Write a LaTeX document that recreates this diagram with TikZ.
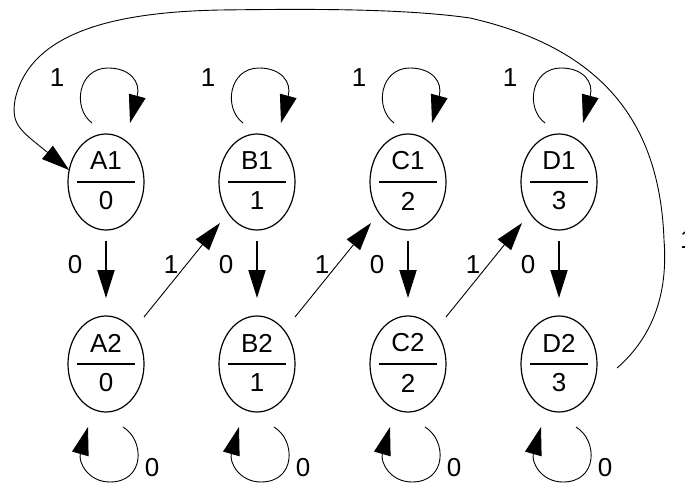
\documentclass[tikz,border=0pt]{standalone}
\usepackage{fontspec}
\setmainfont{Liberation Sans}
\usetikzlibrary{calc,shapes.geometric,arrows.meta}
\begin{document}
\begin{tikzpicture}[x=1pt,y=-1pt,
  state/.style={ellipse,draw,line width=1.2pt,minimum width=76pt,minimum height=96pt,inner sep=0pt,outer sep=0pt},
  lbl/.style={font=\fontsize{26}{30}\selectfont,inner sep=0pt},
  bar/.style={line width=2pt},
  tipA/.style={-{Triangle[length=28pt,width=17pt]}},
  vert/.style={tipA,line width=2pt,shorten <=11pt,shorten >=18pt},
  diag/.style={tipA,line width=0.9pt},
  loopline/.style={tipA,line width=0.9pt}]
\useasboundingbox (0,0) rectangle (685,484);
\foreach \n/\x/\v in {A/106/0,B/257/1,C/408/2,D/559/3}{
  \node[state] (\n1) at (\x,182) {};
  \node[state] (\n2) at (\x,364) {};
  \node[lbl] (\n1t) at ($(\n1)+(0,-21)$) {\n1};
  \node[lbl] (\n1b) at ($(\n1)+(0,19)$) {\v};
  \node[lbl] (\n2t) at ($(\n2)+(0,-21)$) {\n2};
  \node[lbl] (\n2b) at ($(\n2)+(0,19)$) {\v};
  \draw[bar] ($(\n1)+(-29,0)$) -- ($(\n1)+(29,0)$);
  \draw[bar] ($(\n2)+(-29,0)$) -- ($(\n2)+(29,0)$);
  % self loop on top state
  \draw[loopline] ($(\n1)+(-14,-59)$) .. controls ($(\n1)+(-34,-74)$) and ($(\n1)+(-28,-114)$) .. ($(\n1)+(2,-114)$)
     .. controls ($(\n1)+(24,-114)$) and ($(\n1)+(35,-100)$) .. ($(\n1)+(24,-59)$);
  \node[lbl] (\n1l) at ($(\n1)+(-49,-104)$) {1};
  % self loop on bottom state
  \draw[loopline] ($(\n2)+(17,63)$) .. controls ($(\n2)+(39,76)$) and ($(\n2)+(39,118)$) .. ($(\n2)+(4,118)$)
     .. controls ($(\n2)+(-18,118)$) and ($(\n2)+(-28,98)$) .. ($(\n2)+(-18,63)$);
  \node[lbl] (\n2l) at ($(\n2)+(46,104)$) {0};
  % vertical transition
  \draw[vert] (\n1) -- (\n2);
  \node[lbl] (\n1v) at ($(\n1)+(-31,83)$) {0};
}
\foreach \a/\b in {A/B,B/C,C/D}{
  \draw[diag] ($(\a2)+(38,-47)$) -- ($(\b1)+(-37,41)$);
  \node[lbl] (\a d) at ($(\a1)+(65,83)$) {1};
}
% long return transition D2 -> A1
\draw[tipA,line width=0.9pt] ($(D2)+(58,4)$) .. controls (655,335) and (668,290) .. (664,240)
   .. controls (660,130) and (610,50) .. (470,18)
   .. controls (400,8) and (300,9) .. (220,10)
   .. controls (120,12) and (30,30) .. (15,100)
   .. controls (11,125) and (20,130) .. (A1.162);
\node[lbl,anchor=west] (ret) at (680,240) {1};
\end{tikzpicture}
\end{document}
